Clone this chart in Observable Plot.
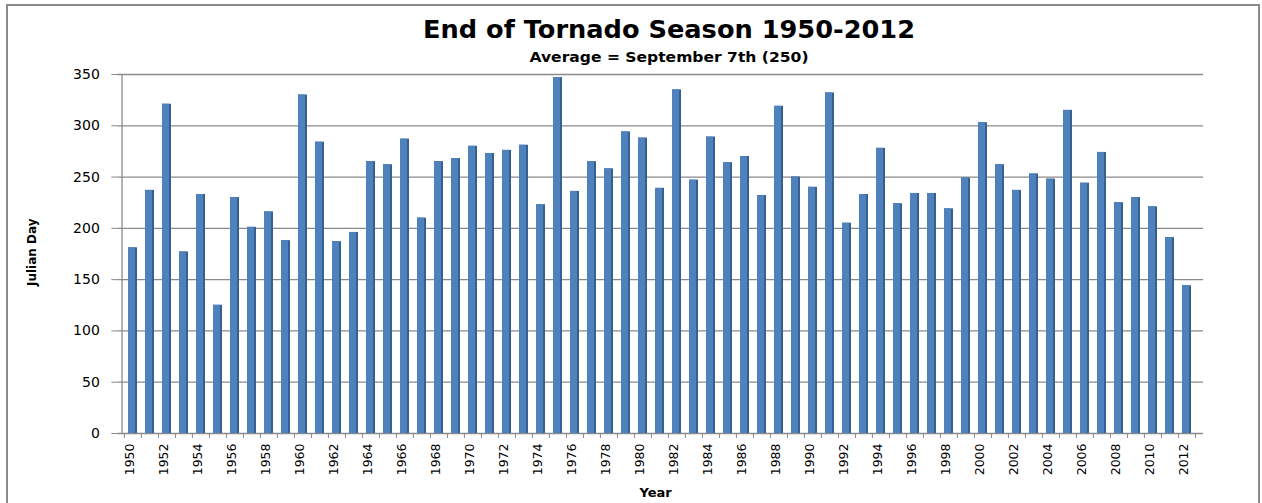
<!DOCTYPE html>
<html><head><meta charset="utf-8">
<script src="https://cdn.jsdelivr.net/npm/d3@7"></script>
<script src="https://cdn.jsdelivr.net/npm/@observablehq/plot@0.6"></script>
<style>
body{margin:0;background:#fff;}
#wrap{position:relative;width:1262px;height:503px;overflow:hidden;background:#fff;}
#border{position:absolute;left:6px;top:4px;width:1254px;height:520px;border:2px solid #8a8a8a;box-sizing:border-box;pointer-events:none;}
#head{position:relative;height:66px;}
#title{position:absolute;left:669px;top:17px;white-space:nowrap;font:bold 25px "DejaVu Sans",sans-serif;line-height:25px;color:#000;}
#sub{position:absolute;left:669px;top:51.3px;white-space:nowrap;font:bold 13.5px "DejaVu Sans",sans-serif;line-height:13.5px;color:#000;}
svg{display:block;}
</style>
</head><body>
<div id="wrap">
<div id="head"><div id="title">End of Tornado Season 1950-2012</div><div id="sub">Average = September 7th (250)</div></div>
<div id="chart"></div>
<div id="border"></div>
</div>
<script>
const years = [1950,1951,1952,1953,1954,1955,1956,1957,1958,1959,1960,1961,1962,1963,1964,1965,1966,1967,1968,1969,1970,1971,1972,1973,1974,1975,1976,1977,1978,1979,1980,1981,1982,1983,1984,1985,1986,1987,1988,1989,1990,1991,1992,1993,1994,1995,1996,1997,1998,1999,2000,2001,2002,2003,2004,2005,2006,2007,2008,2009,2010,2011,2012];
const julianDay = [181,237,321,177,233,125,230,201,216,188,330,284,187,196,265,262,287,210,265,268,280,273,276,281,223,347,236,265,258,294,288,239,335,247,289,264,270,232,319,250,240,332,205,233,278,224,234,234,219,249,303,262,237,253,248,315,244,274,225,230,221,191,144];
const labelYears = [1950,1952,1954,1956,1958,1960,1962,1964,1966,1968,1970,1972,1974,1976,1978,1980,1982,1984,1986,1988,1990,1992,1994,1996,1998,2000,2002,2004,2006,2008,2010,2012];
const yTicks = [0,50,100,150,200,250,300,350];

const data = years.map((y, i) => ({year: y, value: julianDay[i]}));
const halfStep = (1198.9 - 119.7) / years.length / 2;
const grey = "#8a8a8a";

const chart = Plot.plot({
  width: 1262,
  height: 437,
  marginTop: 8,
  marginBottom: 70,
  marginLeft: 117.3,
  marginRight: 59,
  style: {fontFamily: "DejaVu Sans", background: "#fff", color: "#000"},
  x: {type: "band", domain: years, range: [119.7, 1198.9], paddingInner: 0.46, paddingOuter: 0.23},
  y: {domain: [0, 350]},
  marks: [
    Plot.gridY(yTicks, {stroke: grey, strokeOpacity: 1, strokeWidth: 1.3}),
    Plot.barY(data, {x: "year", y: "value", fill: "#36608f"}),
    Plot.barY(data, {x: "year", y: "value", fill: "#4f81bd", insetRight: 2}),
    Plot.ruleX([years[0]], {x: d => d, y1: 0, y2: 350, dx: -(halfStep + 2.4), stroke: grey, strokeWidth: 1.3}),
    Plot.axisY({ticks: yTicks, tickSize: 6, tickPadding: 12, stroke: grey, fill: "#000", fontSize: 14, label: null}),
    Plot.axisX({ticks: labelYears, tickFormat: d => String(d), tickSize: 0, tickPadding: 10, tickRotate: -90, fontSize: 12.5, fill: "#000", label: null, dx: -3}),
    Plot.axisX({ticks: years, text: null, tickSize: 5, dx: -halfStep, stroke: grey, label: null}),
    Plot.axisX({ticks: [years[years.length - 1]], text: null, tickSize: 5, dx: halfStep, stroke: grey, label: null}),
    Plot.text(["Julian Day"], {text: d => d, frameAnchor: "left", dx: -86, dy: 32, rotate: -90, fontWeight: "bold", fontSize: 12, fill: "#000"}),
    Plot.text(["Year"], {text: d => d, frameAnchor: "bottom", dx: -5, dy: 63, fontWeight: "bold", fontSize: 13, fill: "#000"})
  ]
});
document.getElementById("chart").appendChild(chart);

// fit the title and subtitle to the reference widths, centred
function fit(id, target) {
  const el = document.getElementById(id);
  const w = el.getBoundingClientRect().width;
  el.style.transformOrigin = "0 0";
  el.style.transform = `translateX(${-target / 2}px) scaleX(${target / w})`;
}
fit("title", 492);
fit("sub", 279);
</script>
</body></html>
